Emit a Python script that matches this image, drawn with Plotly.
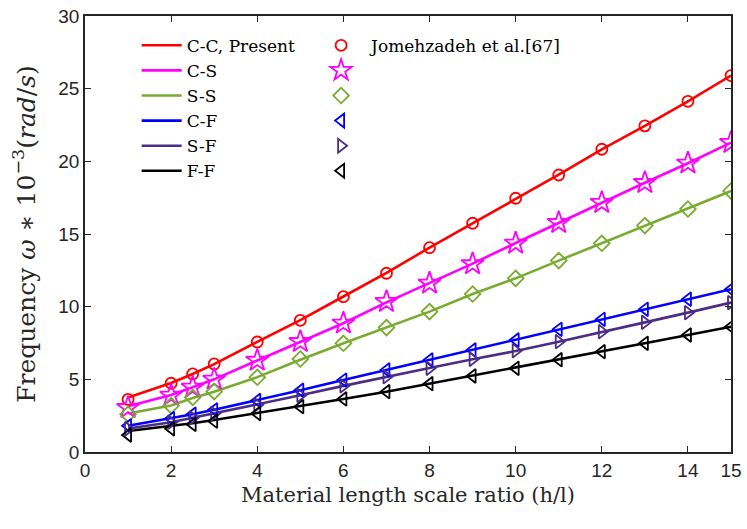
import plotly.graph_objects as go

ratio = [1, 2, 2.5, 3, 4, 5, 6, 7, 8, 9, 10, 11, 12, 13, 14, 15]

# Present (lines)
cc_present = [3.75, 4.75, 5.37, 6.05, 7.58, 9.08, 10.7, 12.32, 14.06, 15.74, 17.46, 19.08, 20.83, 22.44, 24.13, 25.9]
cs_present = [3.15, 3.92, 4.45, 5.0, 6.3, 7.6, 8.86, 10.3, 11.61, 12.96, 14.38, 15.78, 17.16, 18.53, 19.87, 21.29]
ss_present = [2.65, 3.2, 3.72, 4.15, 5.15, 6.35, 7.48, 8.56, 9.66, 10.87, 11.95, 13.17, 14.36, 15.58, 16.72, 17.96]
cf_present = [1.8, 2.3, 2.6, 2.9, 3.55, 4.25, 4.95, 5.65, 6.35, 7.02, 7.72, 8.44, 9.13, 9.82, 10.51, 11.2]
sf_present = [1.62, 2.05, 2.35, 2.65, 3.25, 3.9, 4.55, 5.18, 5.78, 6.38, 6.95, 7.59, 8.28, 8.92, 9.59, 10.28]
ff_present = [1.45, 1.78, 1.98, 2.2, 2.68, 3.12, 3.65, 4.15, 4.7, 5.23, 5.78, 6.35, 6.9, 7.48, 8.05, 8.62]

# Jomehzadeh et al. [67] (markers)
cc_ref = [3.62, 4.73, 5.37, 6.06, 7.57, 9.06, 10.69, 12.3, 14.06, 15.74, 17.46, 19.06, 20.83, 22.44, 24.13, 25.9]
cs_ref = [3.05, 3.9, 4.45, 5.0, 6.3, 7.59, 8.86, 10.35, 11.61, 12.94, 14.36, 15.78, 17.16, 18.53, 19.87, 21.29]
ss_ref = [2.59, 3.19, 3.76, 4.15, 5.14, 6.4, 7.48, 8.56, 9.66, 10.87, 11.95, 13.17, 14.36, 15.58, 16.72, 17.96]
cf_ref = [1.8, 2.3, 2.6, 2.9, 3.55, 4.25, 4.95, 5.65, 6.33, 7.02, 7.71, 8.44, 9.13, 9.82, 10.51, 11.2]
sf_ref = [1.6, 2.05, 2.35, 2.65, 3.25, 3.9, 4.55, 5.18, 5.76, 6.38, 6.97, 7.59, 8.28, 8.92, 9.59, 10.28]
ff_ref = [1.17, 1.6, 1.9, 2.12, 2.65, 3.12, 3.65, 4.15, 4.7, 5.23, 5.76, 6.35, 6.9, 7.48, 8.05, 8.62]

present_names = ["C-C, Present", "C-S", "S-S", "C-F", "S-F", "F-F"]
ref_names = ["Jomehzadeh et al.[67]", " ", " ", " ", " ", " "]
colors = ["#FF0000", "#FF00FF", "#77AC30", "#0000FF", "#4B2C86", "#000000"]
symbols = ["circle-open", "star-open", "diamond-open", "triangle-left-open", "triangle-right-open", "triangle-left-open"]
sizes = [11, 17, 12, 12, 12, 12]

present = [cc_present, cs_present, ss_present, cf_present, sf_present, ff_present]
refs = [cc_ref, cs_ref, ss_ref, cf_ref, sf_ref, ff_ref]

SERIF = "DejaVu Serif, Liberation Serif, serif"

fig = go.Figure()
for name, ys, c in zip(present_names, present, colors):
    fig.add_trace(go.Scatter(x=ratio, y=ys, mode="lines", name=name,
                             line=dict(color=c, width=2.6), legend="legend"))
for name, ys, c, s, sz in zip(ref_names, refs, colors, symbols, sizes):
    fig.add_trace(go.Scatter(x=ratio, y=ys, mode="markers", name=name,
                             marker=dict(symbol=s, size=sz, color=c, line=dict(color=c, width=1.8)),
                             legend="legend2"))

axis_common = dict(showline=True, linecolor="#262626", linewidth=1.5, mirror="ticks",
                   ticks="inside", ticklen=6, tickwidth=1.3, tickcolor="#262626",
                   showgrid=False, zeroline=False, automargin=False,
                   tickfont=dict(family="Liberation Sans, Arial", size=19, color="#262626"))

fig.update_layout(
    width=747, height=529,
    margin=dict(l=85, r=16, t=16, b=77),
    paper_bgcolor="white", plot_bgcolor="white",
    xaxis=dict(range=[0, 15], tickvals=[0, 2, 4, 6, 8, 10, 12, 14, 15],
               title=dict(text="Material length scale ratio (h/l)", standoff=8,
                          font=dict(family=SERIF, size=21, color="#262626")),
               **axis_common),
    yaxis=dict(range=[0, 30], tickvals=[0, 5, 10, 15, 20, 25, 30],
               title=dict(text="Frequency <i>ω</i>&nbsp;∗&nbsp;10<sup>−3</sup>(<i>rad</i>/<i>s</i>)", standoff=16,
                          font=dict(family=SERIF, size=25, color="#262626")),
               **axis_common),
    legend=dict(x=0.08, y=0.973, xanchor="left", yanchor="top", bgcolor="rgba(0,0,0,0)",
                font=dict(family=SERIF, size=17, color="#000000"),
                tracegroupgap=0, itemwidth=40),
    legend2=dict(x=0.350, y=0.973, xanchor="left", yanchor="top", bgcolor="rgba(0,0,0,0)",
                 font=dict(family=SERIF, size=17, color="#000000"),
                 tracegroupgap=0, itemwidth=50),
    showlegend=True,
)

fig.write_html("out.html", config={"displayModeBar": False},
               post_script="document.body.style.margin='0';document.body.style.padding='0';")
